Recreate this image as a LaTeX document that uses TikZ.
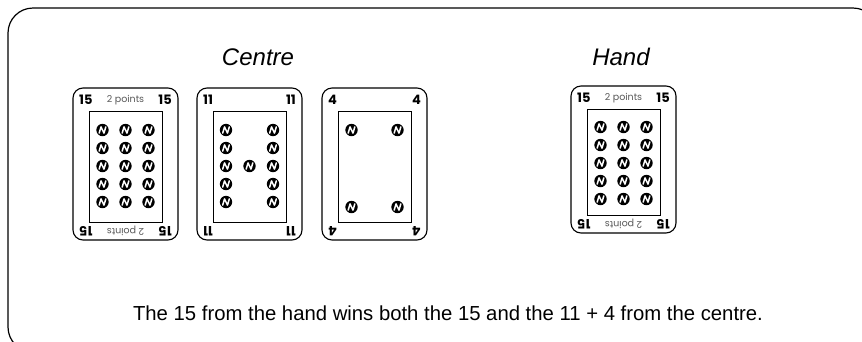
\documentclass[tikz,border=0pt]{standalone}
\usepackage{fontspec}
\setmainfont{Liberation Sans}
\newfontfamily\cardfont{Poppins}

% one playing card: #1 left, #2 top, #3 right, #4 bottom, #5 value, #6 points label, #7 name
\newcommand\drawcard[7]{%
  \draw[cardedge] (#1,#2) rectangle (#3,#4);
  \draw[pipbox] (#1+16,#2+23) rectangle (#3-16,#4-18);
  \node[cornernum, anchor=west] (#7-tl) at (#1+6,#2+12) {#5};
  \node[cornernum, anchor=east] (#7-tr) at (#3-6,#2+12) {#5};
  \node[cornernum, anchor=east, rotate=180] (#7-bl) at (#1+6,#4-9) {#5};
  \node[cornernum, anchor=west, rotate=180] (#7-br) at (#3-6,#4-9) {#5};
  \node[pointslbl] (#7-pt) at ({(#1+#3)/2},#2+12) {#6};
  \node[pointslbl, rotate=180] (#7-pb) at ({(#1+#3)/2},#4-9) {#6};
}

\begin{document}
\begin{tikzpicture}[x=1pt,y=-1pt,
  frame/.style={draw=black, line width=1.2pt, rounded corners=25pt},
  cardedge/.style={draw=black, line width=1.1pt, rounded corners=10pt},
  pipbox/.style={draw=black, line width=0.9pt},
  cornernum/.style={font=\cardfont\bfseries\fontsize{13}{13}\selectfont, inner sep=0pt},
  pointslbl/.style={font=\cardfont\fontsize{9.5}{9.5}\selectfont, inner sep=0pt, text=black!65},
  heading/.style={font=\itshape\fontsize{24}{24}\selectfont, inner sep=0pt},
  caption/.style={font=\fontsize{20.3}{20.3}\selectfont, inner sep=0pt},
  pip/.pic={
    \fill[black] (0,0) circle (6.2);
    \draw[white, line width=1.5pt, line join=round, line cap=round]
      (-3.3,3.1) -- (-1.5,-3.1) -- (1.5,3.1) -- (3.3,-3.1);
  }]
\useasboundingbox (0,0) rectangle (862,341);
\begin{scope}
  \clip (0,0) rectangle (862,341);
  \draw[frame] (8,8) rectangle (878,352);
\end{scope}

\node[heading] (centre) at (258,57) {Centre};
\node[heading] (hand) at (621,57) {Hand};

% centre: 15
\drawcard{73}{88}{178}{240}{15}{2 points}{ca}
\foreach \y in {130,148,166,184,202}
  \foreach \x in {102.5,125.5,148.5}
    \pic at (\x,\y) {pip};

% centre: 11
\drawcard{197}{88}{302}{240}{11}{}{cb}
\foreach \y in {130,148,166,184,202}
  \foreach \x in {226,273}
    \pic at (\x,\y) {pip};
\pic at (249.5,166) {pip};

% centre: 4
\drawcard{322}{88}{427}{240}{4}{}{cc}
\foreach \y in {130,207}
  \foreach \x in {351.5,397.5}
    \pic at (\x,\y) {pip};

% hand: 15
\drawcard{571}{86}{676}{233}{15}{2 points}{hd}
\foreach \y in {127,145,163,181,199}
  \foreach \x in {600.5,623.5,646.5}
    \pic at (\x,\y) {pip};

\node[caption] (note) at (448,313)
  {The 15 from the hand wins both the 15 and the 11 + 4 from the centre.};
\end{tikzpicture}
\end{document}
